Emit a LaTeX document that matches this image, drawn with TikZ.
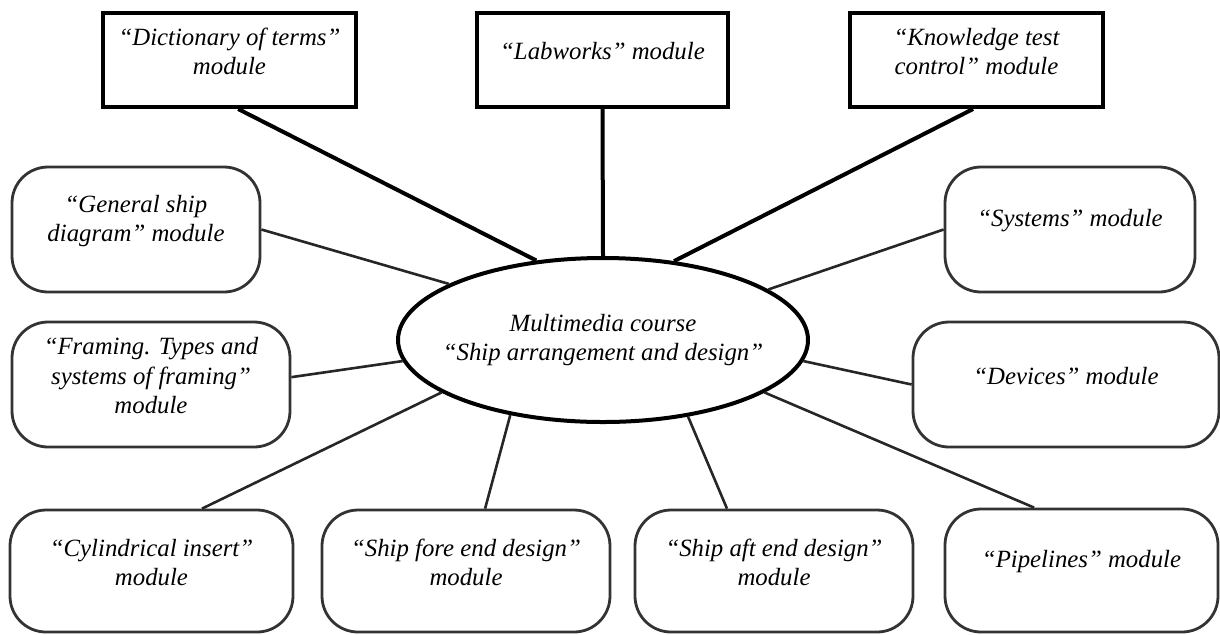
\documentclass[tikz,border=0pt]{standalone}
\usepackage{fontspec}
\setmainfont{Liberation Serif}
\usetikzlibrary{fit,shapes.geometric}
\begin{document}
\begin{tikzpicture}[x=0.5pt,y=-0.5pt,
  modtext/.style={font=\fontsize{12.4}{14.8}\selectfont\itshape, align=center},
  topbox/.style={modtext, draw=black, line width=2pt, inner sep=0pt},
  sidebox/.style={modtext, draw=black!80, line width=1.4pt, rounded corners=18pt, inner sep=0pt},
  heavylink/.style={draw=black, line width=2pt},
  link/.style={draw=black!85, line width=1.3pt},
]
\useasboundingbox (0,0) rectangle (1220,634);

% central course node
\node[draw, ellipse, line width=2pt, minimum width=205pt, minimum height=82pt, inner sep=0pt] (hub) at (603,340) {};
\node[modtext] (hubtext) at (hub) {Multimedia course\\“Ship arrangement and design”};

% upper modules
\node[topbox, fit={(103,13) (356,107)}] (dict) {“Dictionary of terms”\\module};
\node[topbox, fit={(477,13) (728,107)}] (lab) {“Labworks” module};
\node[topbox, fit={(850,13) (1103,107)}] (test) {“Knowledge test\\control” module};

% side modules
\node[sidebox, fit={(12,167) (260,292)}] (general) {“General ship\\diagram” module};
\node[sidebox, fit={(12,322) (290,447)}] (framing) {“Framing. Types and\\systems of framing”\\module};
\node[sidebox, fit={(945,167) (1195,292)}] (systems) {“Systems” module};
\node[sidebox, fit={(913,322) (1219,447)}] (devices) {“Devices” module};

% lower modules
\node[sidebox, fit={(10,510) (293,632)}] (cyl) {“Cylindrical insert”\\module};
\node[sidebox, fit={(322,510) (610,632)}] (fore) {“Ship fore end design”\\module};
\node[sidebox, fit={(635,510) (913,632)}] (aft) {“Ship aft end design”\\module};
\node[sidebox, fit={(945,509) (1218,632)}] (pipes) {“Pipelines” module};

% connectors
\draw[heavylink] (dict.-80.9) -- (hub.130.6);
\draw[heavylink] (lab.south) -- (hub.90);
\draw[heavylink] (test.-94.3) -- (hub.48.1);
\draw[link] (general.east) -- (hub.160.6);
\draw[link] (systems.west) -- (hub.17.6);
\draw[link] (framing.3.1) -- (hub.186.3);
\draw[link] (devices.west) -- (hub.-6.6);
\draw[link] (cyl.51.5) -- (hub.198.2);
\draw[link] (fore.73.6) -- (hub.219.8);
\draw[link] (aft.127.6) -- (hub.-42.4);
\draw[link] (pipes.127.1) -- (hub.-18.3);
\end{tikzpicture}
\end{document}
